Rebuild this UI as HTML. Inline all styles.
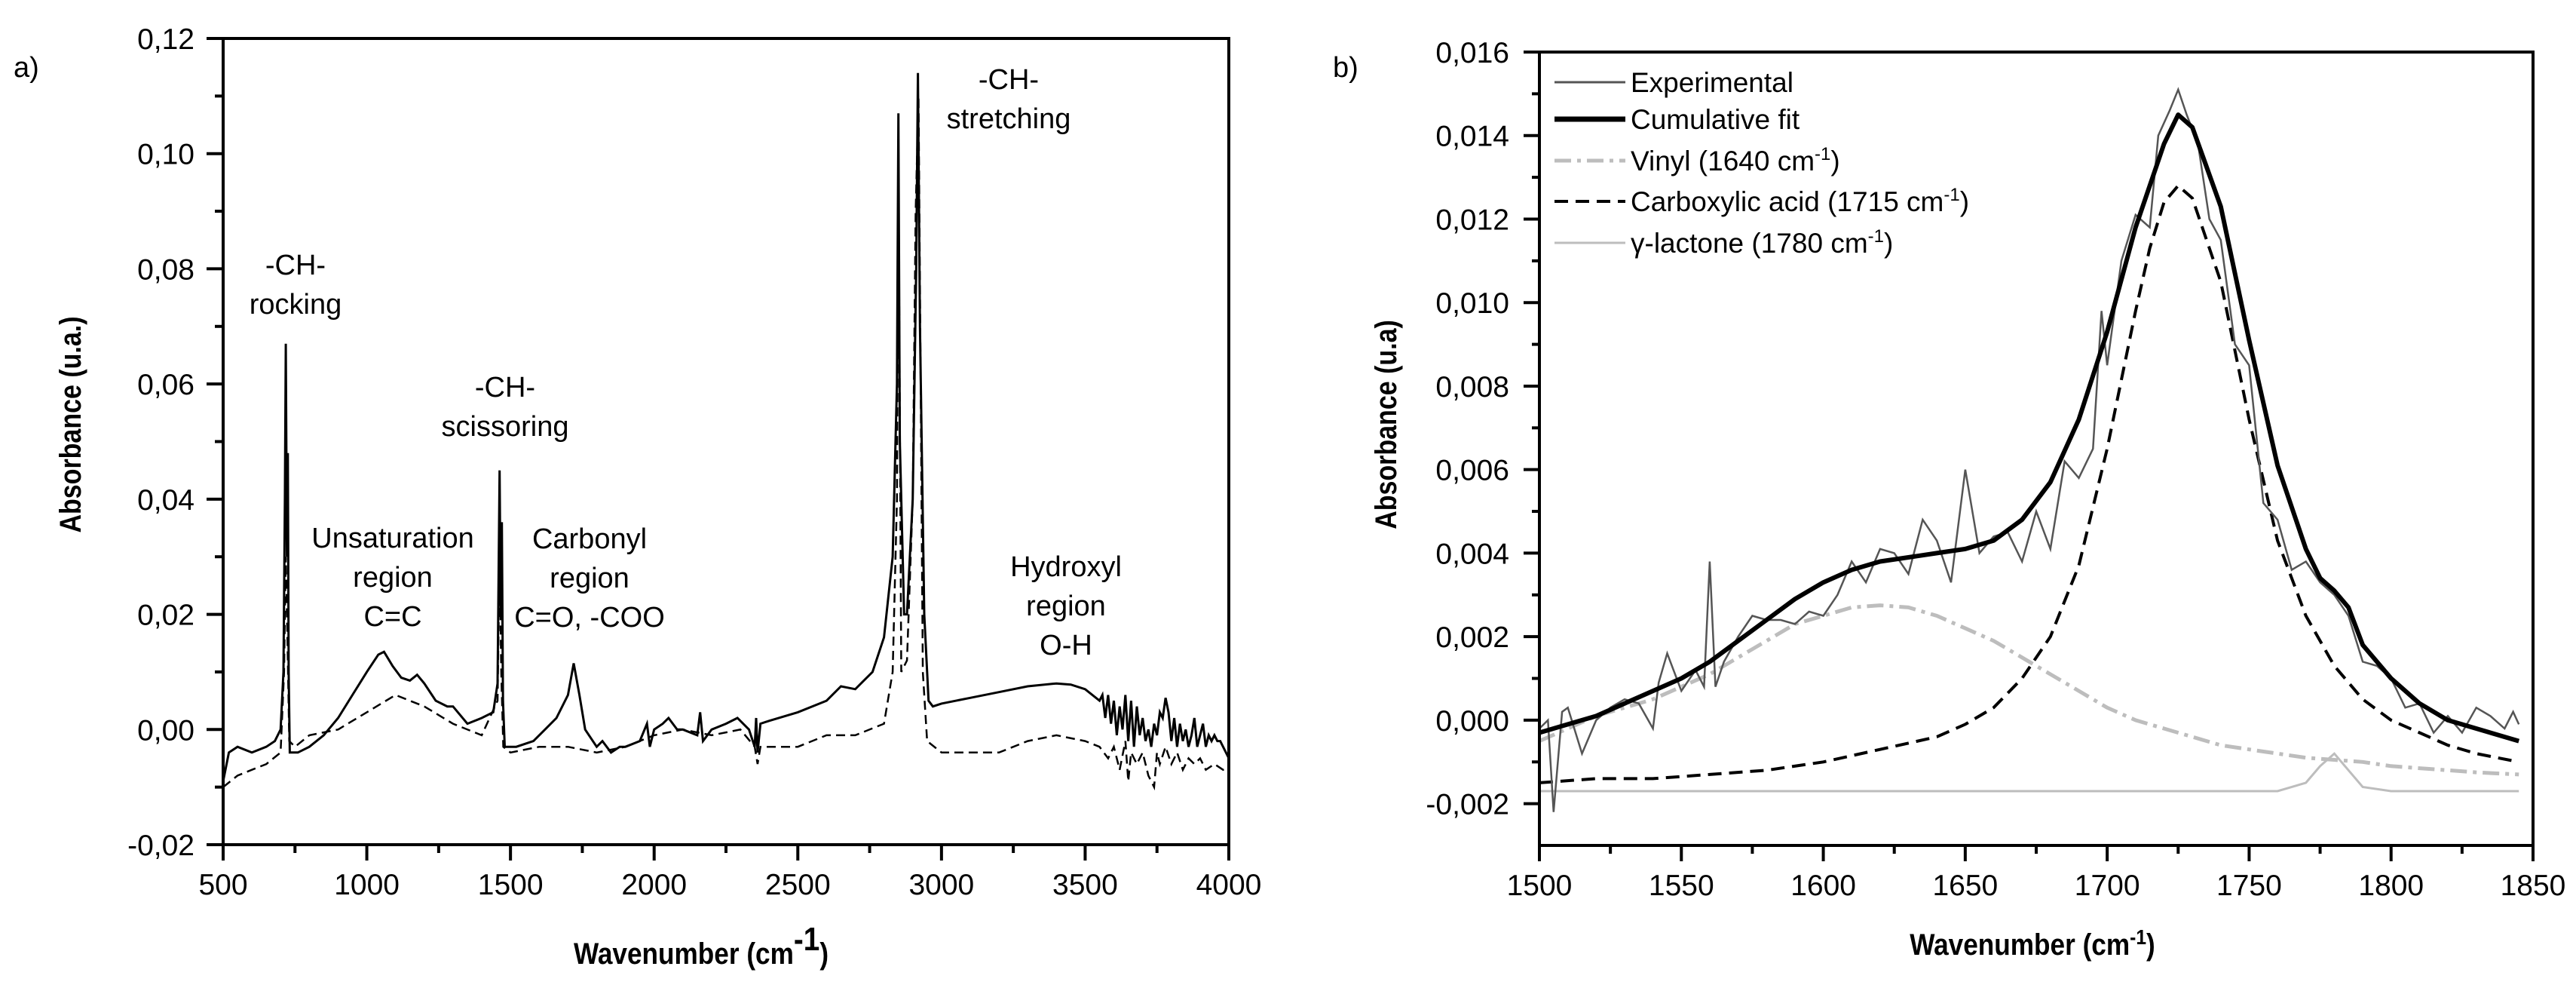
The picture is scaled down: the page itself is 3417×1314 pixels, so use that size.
<!DOCTYPE html>
<html><head><meta charset="utf-8">
<style>
html,body{margin:0;padding:0;background:#fff;}
svg{display:block;}
.tick{font-family:"Liberation Sans",sans-serif;font-size:39px;fill:#000;}
.ann{font-family:"Liberation Sans",sans-serif;font-size:38px;fill:#000;}
.ttl{font-family:"Liberation Sans",sans-serif;font-size:40px;font-weight:bold;fill:#000;}
.leg{font-family:"Liberation Sans",sans-serif;font-size:37px;fill:#000;}
</style></head>
<body>
<svg id="fig" width="3417" height="1314" viewBox="0 0 3417 1314" xmlns="http://www.w3.org/2000/svg"></svg>
<script>
// ---------- Panel a data ----------
const aSolidX = [500,520,550,600,650,680,700,710,715,718,722,725,728,732,760,800,850,900,950,1000,1040,1060,1090,1120,1150,1175,1200,1240,1280,1300,1350,1400,1440,1455,1462,1466,1470,1474,1480,1520,1580,1620,1660,1700,1720,1740,1760,1800,1820,1850,1880,1900,1950,1975,1985,2000,2030,2050,2080,2100,2150,2160,2170,2200,2250,2290,2330,2350,2355,2360,2370,2400,2500,2600,2650,2700,2760,2800,2830,2845,2850,2855,2870,2880,2900,2912,2918,2925,2940,2955,2970,3000,3100,3200,3300,3400,3450,3500,3550,3560,3570,3580,3590,3600,3610,3620,3630,3640,3650,3660,3670,3680,3690,3700,3710,3720,3730,3740,3750,3760,3770,3780,3790,3800,3810,3820,3830,3840,3850,3860,3870,3880,3890,3900,3910,3920,3930,3940,3950,3960,3970,3980,3990,4000];
const aSolidY = [-0.009,-0.004,-0.003,-0.004,-0.003,-0.002,0.000,0.010,0.040,0.067,0.030,0.048,0.010,-0.004,-0.004,-0.003,-0.001,0.002,0.006,0.010,0.013,0.0135,0.011,0.009,0.0085,0.0095,0.008,0.005,0.004,0.004,0.001,0.002,0.003,0.008,0.045,0.020,0.036,0.005,-0.003,-0.003,-0.002,0.000,0.002,0.006,0.0115,0.006,0.000,-0.003,-0.002,-0.004,-0.003,-0.003,-0.002,0.001,-0.003,0.000,0.001,0.002,0.000,0.000,-0.001,0.003,-0.002,0.000,0.001,0.002,0.000,-0.003,0.002,-0.004,0.001,0.0015,0.003,0.005,0.0075,0.007,0.010,0.016,0.030,0.060,0.107,0.050,0.020,0.020,0.040,0.080,0.114,0.070,0.020,0.005,0.004,0.0045,0.0055,0.0065,0.0075,0.008,0.0078,0.007,0.005,0.006,0.002,0.006,0.001,0.005,-0.001,0.004,0.000,0.006,-0.002,0.005,-0.003,0.004,-0.001,0.002,-0.002,0.000,-0.003,0.001,-0.001,0.003,0.002,0.0055,0.003,-0.002,0.002,-0.003,0.001,-0.002,0.000,-0.003,-0.001,0.002,-0.003,-0.001,0.001,-0.003,-0.001,-0.002,-0.001,-0.002,-0.002,-0.003,-0.004,-0.005];
const aDashX = [500,550,600,650,700,712,718,724,730,750,800,900,1000,1100,1150,1200,1300,1400,1455,1462,1468,1475,1500,1600,1700,1800,1900,2000,2100,2200,2300,2350,2360,2370,2400,2500,2600,2700,2800,2830,2845,2850,2860,2880,2900,2910,2920,2935,2950,3000,3100,3200,3300,3400,3500,3550,3580,3600,3620,3640,3650,3660,3680,3700,3720,3740,3750,3760,3780,3800,3820,3840,3860,3880,3900,3920,3950,3980,4000];
const aDashY = [-0.010,-0.008,-0.007,-0.006,-0.004,0.010,0.030,0.015,-0.002,-0.003,-0.001,0.000,0.003,0.006,0.005,0.004,0.001,-0.001,0.005,0.030,0.010,-0.003,-0.004,-0.003,-0.003,-0.004,-0.003,-0.001,0.000,-0.001,0.000,-0.003,-0.006,-0.003,-0.003,-0.003,-0.001,-0.001,0.001,0.010,0.040,0.100,0.010,0.012,0.040,0.090,0.110,0.010,-0.002,-0.004,-0.004,-0.004,-0.002,-0.001,-0.002,-0.003,-0.005,-0.003,-0.007,-0.002,-0.009,-0.004,-0.006,-0.004,-0.008,-0.010,-0.004,-0.006,-0.003,-0.006,-0.004,-0.007,-0.005,-0.006,-0.005,-0.007,-0.006,-0.007,-0.007];
const aXTicks = [500,1000,1500,2000,2500,3000,3500,4000];
const aYTicks = [-0.02,0,0.02,0.04,0.06,0.08,0.10,0.12];
const aYLabels = ["-0,02","0,00","0,02","0,04","0,06","0,08","0,10","0,12"];

// ---------- Panel b data ----------
const bExpX = [1500,1503,1505,1508,1510,1515,1520,1525,1530,1535,1540,1542,1545,1550,1555,1558,1560,1562,1565,1570,1575,1580,1585,1590,1595,1600,1605,1610,1615,1620,1625,1630,1635,1640,1645,1650,1655,1660,1665,1670,1675,1680,1685,1690,1695,1698,1700,1705,1710,1715,1718,1722,1725,1728,1732,1736,1740,1745,1750,1755,1760,1765,1770,1775,1780,1785,1790,1795,1800,1805,1810,1815,1820,1825,1830,1835,1840,1843,1845];
const bExpY = [-0.0002,0.0,-0.0022,0.0002,0.0003,-0.0008,0.0,0.0003,0.0005,0.0004,-0.0002,0.0009,0.0016,0.0007,0.0012,0.0008,0.0038,0.0008,0.0014,0.0020,0.0025,0.0024,0.0024,0.0023,0.0026,0.0025,0.0030,0.0038,0.0033,0.0041,0.0040,0.0035,0.0048,0.0043,0.0033,0.0060,0.0040,0.0044,0.0045,0.0038,0.0050,0.0041,0.0062,0.0058,0.0065,0.0098,0.0085,0.0110,0.0121,0.0118,0.0140,0.0146,0.0151,0.0145,0.0138,0.0120,0.0115,0.0090,0.0085,0.0052,0.0048,0.0036,0.0038,0.0033,0.0030,0.0025,0.0014,0.0013,0.0010,0.0003,0.0004,-0.0003,0.0001,-0.0003,0.0003,0.0001,-0.0002,0.0002,-0.0001];
const bCumX = [1500,1510,1520,1530,1540,1550,1560,1570,1580,1590,1600,1610,1620,1630,1640,1650,1660,1670,1680,1690,1700,1710,1720,1725,1730,1740,1750,1760,1770,1775,1780,1785,1790,1800,1810,1820,1830,1845];
const bCumY = [-0.0003,-0.0001,0.0001,0.0004,0.0007,0.0010,0.0014,0.0019,0.0024,0.0029,0.0033,0.0036,0.0038,0.0039,0.0040,0.0041,0.0043,0.0048,0.0057,0.0072,0.0093,0.0118,0.0138,0.0145,0.0142,0.0123,0.0091,0.0061,0.0041,0.0034,0.0031,0.0027,0.0018,0.0010,0.0004,0.0000,-0.0002,-0.0005];
const bVinX = [1500,1510,1520,1530,1540,1550,1560,1570,1580,1590,1600,1610,1620,1630,1640,1650,1660,1670,1680,1690,1700,1710,1720,1730,1740,1750,1760,1770,1780,1790,1800,1810,1820,1830,1845];
const bVinY = [-0.0005,-0.0002,0.0001,0.0003,0.0005,0.0008,0.0011,0.0015,0.0019,0.0023,0.0025,0.0027,0.00275,0.0027,0.0025,0.0022,0.0019,0.0015,0.0011,0.0007,0.0003,0.0,-0.0002,-0.0004,-0.0006,-0.0007,-0.0008,-0.0009,-0.00095,-0.001,-0.0011,-0.00115,-0.0012,-0.00125,-0.0013];
const bAcidX = [1500,1520,1540,1560,1580,1600,1620,1640,1650,1660,1670,1680,1690,1700,1710,1715,1720,1725,1730,1740,1750,1760,1770,1780,1790,1800,1810,1820,1830,1845];
const bAcidY = [-0.0015,-0.0014,-0.0014,-0.0013,-0.0012,-0.0010,-0.0007,-0.0004,-0.0001,0.0003,0.0010,0.0020,0.0037,0.0065,0.0098,0.0113,0.0124,0.0128,0.0125,0.0105,0.0072,0.0043,0.0025,0.0013,0.0005,0.0,-0.0003,-0.0006,-0.0008,-0.0010];
const bLacX = [1500,1600,1700,1760,1770,1775,1780,1785,1790,1800,1845];
const bLacY = [-0.0017,-0.0017,-0.0017,-0.0017,-0.0015,-0.0011,-0.0008,-0.0012,-0.0016,-0.0017,-0.0017];
const bXTicks = [1500,1550,1600,1650,1700,1750,1800,1850];
const bYTicks = [-0.002,0,0.002,0.004,0.006,0.008,0.010,0.012,0.014,0.016];
const bYLabels = ["-0,002","0,000","0,002","0,004","0,006","0,008","0,010","0,012","0,014","0,016"];

const NS = "http://www.w3.org/2000/svg";
const svg = document.getElementById('fig');
function mk(tag, attrs, parent, text){
  const e = document.createElementNS(NS, tag);
  for (const k in attrs) e.setAttribute(k, attrs[k]);
  if (text !== undefined) e.textContent = text;
  (parent||svg).appendChild(e);
  return e;
}
function scale(d0,d1,r0,r1){ return v => r0 + (v-d0)/(d1-d0)*(r1-r0); }
function pathOf(xs, ys, sx, sy){
  return xs.map((x,i)=>(i?'L':'M')+sx(x).toFixed(1)+' '+sy(ys[i]).toFixed(1)).join(' ');
}

// ======== Panel a ========
const ax = scale(500,4000,296,1630);
const ay = scale(-0.02,0.12,1120,51);
const gA = mk('g',{});


const pa1 = mk('path',{d:pathOf(aDashX,aDashY,ax,ay),fill:'none',stroke:'#000','stroke-width':2.5,'stroke-dasharray':'12 7'},gA);


const pa2 = mk('path',{d:pathOf(aSolidX,aSolidY,ax,ay),fill:'none',stroke:'#000','stroke-width':3},gA);


const frA = mk('rect',{x:296,y:51,width:1334,height:1069,fill:'none',stroke:'#000','stroke-width':4},gA);


aXTicks.forEach((t,i)=>{
  mk('line',{x1:ax(t),x2:ax(t),y1:1120,y2:1141,stroke:'#000','stroke-width':4},gA);
  if(i<aXTicks.length-1){const m=t+250; mk('line',{x1:ax(m),x2:ax(m),y1:1120,y2:1131,stroke:'#000','stroke-width':4},gA);}
  const tl = mk('text',{x:ax(t),y:1186,'text-anchor':'middle',class:'tick'},gA,String(t));
  
  
});
aYTicks.forEach((t,i)=>{
  mk('line',{x1:274,x2:296,y1:ay(t),y2:ay(t),stroke:'#000','stroke-width':4},gA);
  if(i<aYTicks.length-1){const m=t+0.01; mk('line',{x1:285,x2:296,y1:ay(m),y2:ay(m),stroke:'#000','stroke-width':4},gA);}
  const tl = mk('text',{x:258,y:ay(t)+14,'text-anchor':'end',class:'tick'},gA,aYLabels[i]);
  
  
});
const xtA = mk('text',{x:930,y:1278,'text-anchor':'middle',class:'ttl',transform:'translate(930 0) scale(0.88 1) translate(-930 0)'},gA);


mk('tspan',{},xtA,'Wavenumber (cm');
mk('tspan',{dy:-18,'font-size':'44'},xtA,'-1');
mk('tspan',{dy:18},xtA,')');
const ytA = mk('text',{x:0,y:0,'text-anchor':'middle',class:'ttl',transform:'translate(107 563) rotate(-90) scale(0.85 1)'},gA,'Absorbance (u.a.)');


const lblA = mk('text',{x:18,y:102,class:'ann','font-size':'48'},gA,'a)');


const anns = [
 {name:'rocking-annotation',x:392,lines:['-CH-','rocking'],y0:351},
 {name:'scissoring-annotation',x:670,lines:['-CH-','scissoring'],y0:513},
 {name:'unsaturation-annotation',x:521,lines:['Unsaturation','region','C=C'],y0:713},
 {name:'carbonyl-annotation',x:782,lines:['Carbonyl','region','C=O, -COO'],y0:714},
 {name:'stretching-annotation',x:1338,lines:['-CH-','stretching'],y0:105},
 {name:'hydroxyl-annotation',x:1414,lines:['Hydroxyl','region','O-H'],y0:751}
];
anns.forEach(a=>{
  const t = mk('text',{'text-anchor':'middle',class:'ann'},gA);
  
  
  a.lines.forEach((l,i)=>mk('tspan',{x:a.x,y:a.y0+13+i*52},t,l));
});

// ======== Panel b ========
const bx = scale(1500,1850,2042,3360);
const by = scale(-0.003,0.016,1121,69);
const gB = mk('g',{});


const pl = mk('path',{d:pathOf(bLacX,bLacY,bx,by),fill:'none',stroke:'#bdbdbd','stroke-width':3},gB);


const pv = mk('path',{d:pathOf(bVinX,bVinY,bx,by),fill:'none',stroke:'#bdbdbd','stroke-width':5,'stroke-dasharray':'22 8 5 8'},gB);


const pc = mk('path',{d:pathOf(bAcidX,bAcidY,bx,by),fill:'none',stroke:'#000','stroke-width':4,'stroke-dasharray':'18 10'},gB);


const pe = mk('path',{d:pathOf(bExpX,bExpY,bx,by),fill:'none',stroke:'#555','stroke-width':2.5},gB);


const pf = mk('path',{d:pathOf(bCumX,bCumY,bx,by),fill:'none',stroke:'#000','stroke-width':6,'stroke-linejoin':'round'},gB);


const frB = mk('rect',{x:2042,y:69,width:1318,height:1052,fill:'none',stroke:'#000','stroke-width':4},gB);


bXTicks.forEach((t,i)=>{
  mk('line',{x1:bx(t),x2:bx(t),y1:1121,y2:1142,stroke:'#000','stroke-width':4},gB);
  if(i<bXTicks.length-1){const m=t+25; mk('line',{x1:bx(m),x2:bx(m),y1:1121,y2:1132,stroke:'#000','stroke-width':4},gB);}
  const tl = mk('text',{x:bx(t),y:1187,'text-anchor':'middle',class:'tick'},gB,String(t));
  
  
});
bYTicks.forEach((t,i)=>{
  mk('line',{x1:2021,x2:2042,y1:by(t),y2:by(t),stroke:'#000','stroke-width':4},gB);
  const m=t+0.001; if(m<0.0165) mk('line',{x1:2032,x2:2042,y1:by(m),y2:by(m),stroke:'#000','stroke-width':4},gB);
  const tl = mk('text',{x:2002,y:by(t)+14,'text-anchor':'end',class:'tick'},gB,bYLabels[i]);
  
  
});
const xtB = mk('text',{x:2696,y:1266,'text-anchor':'middle',class:'ttl',transform:'translate(2696 0) scale(0.88 1) translate(-2696 0)'},gB);


mk('tspan',{},xtB,'Wavenumber (cm');
mk('tspan',{dy:-14,'font-size':'28'},xtB,'-1');
mk('tspan',{dy:14},xtB,')');
const ytB = mk('text',{x:0,y:0,'text-anchor':'middle',class:'ttl',transform:'translate(1852 563) rotate(-90) scale(0.85 1)'},gB,'Absorbance (u.a)');


const lblB = mk('text',{x:1768,y:102,class:'ann','font-size':'48'},gB,'b)');



// legend
const legNames = ['Experimental','Cumulative fit','Vinyl (1640 cm','Carboxylic acid (1715 cm','\u03b3-lactone (1780 cm'];
const legStyles = [
 {stroke:'#555','stroke-width':3},
 {stroke:'#000','stroke-width':7},
 {stroke:'#bdbdbd','stroke-width':5,'stroke-dasharray':'22 8 5 8'},
 {stroke:'#000','stroke-width':4,'stroke-dasharray':'18 10'},
 {stroke:'#bdbdbd','stroke-width':3}
];
const legY = [109,158,213,267,322];
const gL = mk('g',{},gB);


legNames.forEach((n,i)=>{
  const g = mk('g',{},gL);
  
  
  const st = Object.assign({x1:2062,x2:2156,y1:legY[i],y2:legY[i],fill:'none'},legStyles[i]);
  mk('line',st,g);
  const t = mk('text',{x:2163,y:legY[i]+13,class:'leg'},g);
  mk('tspan',{},t,n);
  if(i>=2){ mk('tspan',{dy:-14,'font-size':'24'},t,'-1'); mk('tspan',{dy:14},t,')'); }
});
</script>
</body></html>
